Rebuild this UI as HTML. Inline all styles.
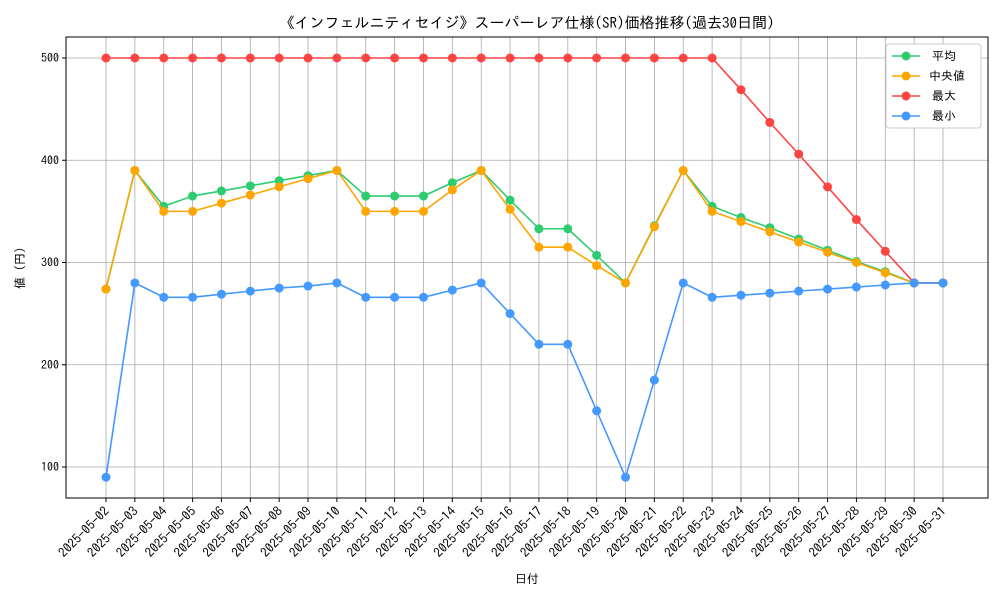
<!DOCTYPE html>
<html><head><meta charset="utf-8"><style>
html,body{margin:0;padding:0;background:#fff;}
svg{display:block;font-family:"IPAGothic","Noto Sans CJK JP",sans-serif;}
</style></head><body>
<svg id="chart" width="1000" height="600"></svg>
<script>
const dates=["2025-05-02","2025-05-03","2025-05-04","2025-05-05","2025-05-06","2025-05-07","2025-05-08","2025-05-09","2025-05-10","2025-05-11","2025-05-12","2025-05-13","2025-05-14","2025-05-15","2025-05-16","2025-05-17","2025-05-18","2025-05-19","2025-05-20","2025-05-21","2025-05-22","2025-05-23","2025-05-24","2025-05-25","2025-05-26","2025-05-27","2025-05-28","2025-05-29","2025-05-30","2025-05-31"];
const avgVals=[274,390,355,365,370,375,380,385,390,365,365,365,378,390,361,333,333,307,280,336,390,355,344,334,323,312,301,291,280,280];
const medVals=[274,390,350,350,358,366,374,382,390,350,350,350,371,390,352,315,315,297,280,335,390,350,340,330,320,310,300,290,280,280];
const maxVals=[500,500,500,500,500,500,500,500,500,500,500,500,500,500,500,500,500,500,500,500,500,500,469,437,406,374,342,311,280,280];
const minVals=[90,280,266,266,269,272,275,277,280,266,266,266,273,280,250,220,220,155,90,185,280,266,268,270,272,274,276,278,280,280];
const yTicks=[100,200,300,400,500];
const seriesNames=["平均","中央値","最大","最小"];
const NS="http://www.w3.org/2000/svg";
const svg=document.getElementById("chart");
const L=66,R=988,T=37,B=498;
const xs=i=>106+i*(943-106)/(dates.length-1);
const ys=v=>467-(v-100)*(467-58)/400;
function mk(tag,attrs,parent){const e=document.createElementNS(NS,tag);for(const k in attrs)e.setAttribute(k,attrs[k]);(parent||svg).appendChild(e);return e;}
dates.forEach((d,i)=>{const l=mk("line",{x1:xs(i),x2:xs(i),y1:T,y2:B,stroke:"#aaaaaa","stroke-width":0.8});

});
yTicks.forEach(v=>{const l=mk("line",{x1:L,x2:R,y1:ys(v),y2:ys(v),stroke:"#aaaaaa","stroke-width":0.8});


const t=mk("line",{x1:L-4,x2:L,y1:ys(v),y2:ys(v),stroke:"#000"});


const tx=mk("text",{x:L-7,y:ys(v)+4,"text-anchor":"end","font-size":12});tx.textContent=v;

});
dates.forEach((d,i)=>{const t=mk("line",{x1:xs(i),x2:xs(i),y1:B,y2:B+4,stroke:"#000"});


const tx=mk("text",{x:xs(i)+4,y:B+14,"text-anchor":"end","font-size":13,transform:`rotate(-45 ${xs(i)+4} ${B+14})`});tx.textContent=d;

});
const frame=mk("rect",{x:L,y:T,width:R-L,height:B-T,fill:"none",stroke:"#000","stroke-width":1});


const series=[[avgVals,"#2ecc71","series-average"],[medVals,"#ffa500","series-median"],[maxVals,"#ff4444","series-max"],[minVals,"#4499ff","series-min"]];
series.forEach(([vals,c,n])=>{const g=mk("g",{});


const p=mk("polyline",{points:vals.map((v,i)=>xs(i)+","+ys(v)).join(" "),fill:"none",stroke:c,"stroke-width":1.6},g);


vals.forEach((v,i)=>{const m=mk("circle",{cx:xs(i),cy:ys(v),r:4.5,fill:c},g);

});});
const lg=mk("g",{});


const lb=mk("rect",{x:886,y:44,width:95,height:84,fill:"#fff",stroke:"#ccc",rx:3},lg);


seriesNames.forEach((s,i)=>{const y=56+i*20,c=series[i][1];
const l=mk("line",{x1:892,x2:920,y1:y,y2:y,stroke:c,"stroke-width":1.6},lg);


const m=mk("circle",{cx:906,cy:y,r:4.5,fill:c},lg);


const t=mk("text",{x:i==1?929:932,y:y+4,"font-size":12},lg);t.textContent=i==1?" "+s:s;

});
const ti=mk("text",{x:527,y:28,"text-anchor":"middle","font-size":15});ti.textContent="《インフェルニティセイジ》スーパーレア仕様(SR)価格推移(過去30日間)";


const xt=mk("text",{x:527,y:583,"text-anchor":"middle","font-size":12});xt.textContent="日付";


const yt=mk("text",{x:24,y:268,"text-anchor":"middle","font-size":12,transform:"rotate(-90 24 268)"});yt.textContent="値 (円)";


</script>
</body></html>
